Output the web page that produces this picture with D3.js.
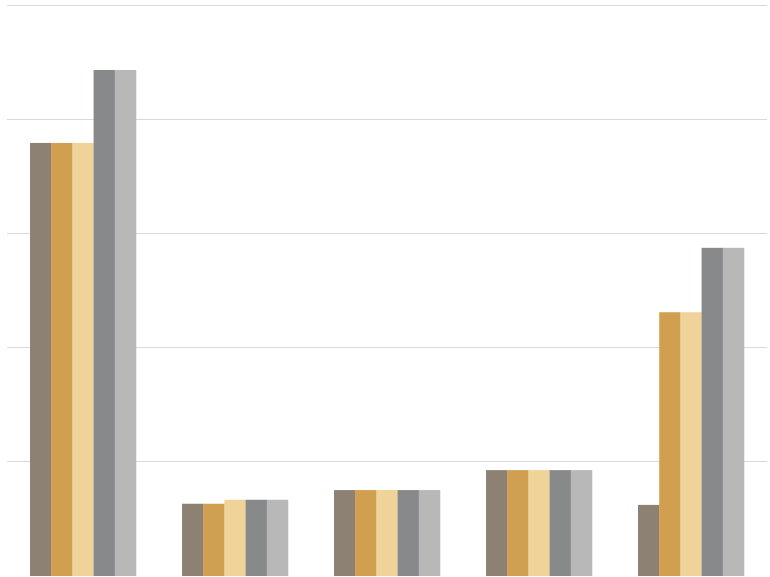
<!DOCTYPE html>
<html><head><meta charset="utf-8">
<script src="https://cdn.jsdelivr.net/npm/d3@7"></script>
<style>html,body{margin:0;padding:0;background:#fff;}</style>
</head><body>
<svg id="c" width="770" height="577"></svg>
<script>
const categories = ["A", "B", "C", "D", "E"];
const seriesNames = ["S1", "S2", "S3", "S4", "S5"];
const s1 = [75.8, 12.5, 14.9, 18.4, 12.3];
const s2 = [75.8, 12.5, 14.9, 18.4, 46.1];
const s3 = [75.8, 13.2, 14.9, 18.4, 46.1];
const s4 = [88.6, 13.2, 14.9, 18.4, 57.4];
const s5 = [88.6, 13.2, 14.9, 18.4, 57.4];
const tickValues = [0, 20, 40, 60, 80, 100];
const colors = ["#8c8173", "#d0a050", "#f0d399", "#88898b", "#b8b8b9"];

const series = [s1, s2, s3, s4, s5];
const svg = d3.select("#c");
const mLeft = 7, mRight = 767, mTop = 5, mBottom = 575;

const x0 = d3.scaleBand().domain(categories).range([mLeft, mRight]).paddingInner(0.303).paddingOuter(0.1515);
const x1 = d3.scaleBand().domain(seriesNames).range([0, x0.bandwidth()]);
const y = d3.scaleLinear().domain([0, 100]).range([mBottom, mTop]);

const yAxis = d3.axisLeft(y).tickValues(tickValues.slice(1)).tickSize(-(mRight - mLeft)).tickFormat("");
const g = svg.append("g").attr("transform", `translate(${mLeft},0)`).call(yAxis);
g.select(".domain").remove();
g.selectAll(".tick line").attr("stroke", "#d9d9d9").attr("stroke-width", 1);

const groups = svg.selectAll("g.grp").data(categories).join("g").attr("class", "grp")
  .attr("transform", d => `translate(${x0(d)},0)`);
groups.selectAll("rect").data((d, i) => seriesNames.map((s, j) => ({s, v: series[j][i], j})))
  .join("rect")
  .attr("x", d => x1(d.s))
  .attr("width", x1.bandwidth() + 0.3)
  .attr("y", d => y(d.v))
  .attr("height", d => mBottom - y(d.v) + 1)
  .attr("fill", d => colors[d.j]);
</script>
</body></html>
